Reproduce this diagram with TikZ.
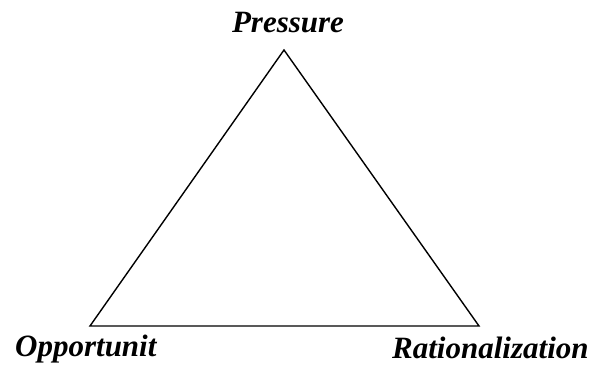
\documentclass[tikz,border=0pt]{standalone}
\usepackage{fontspec}
\setmainfont{Liberation Serif}
\usepackage{tikz}
\usetikzlibrary{positioning}
\tikzset{
  tlabel/.style={font=\fontsize{31}{31}\selectfont\bfseries\itshape,inner sep=0pt},
  tedge/.style={line width=1.4pt,draw=black,line join=miter}
}

\begin{document}
\begin{tikzpicture}[x=1pt,y=1pt]
  \useasboundingbox (0,0) rectangle (598,370);
  % corners of the triangle
  \coordinate (top) at (284,320);
  \coordinate (left) at (90,44);
  \coordinate (right) at (479,44);
  \draw[tedge] (top) -- (right) -- (left) -- cycle;
  % labels
  \node[tlabel,anchor=base] (pressure) at (288,337) {Pressure};
  \node[tlabel,anchor=base west] (opport) at (15,13) {Opportunit};
  \node[tlabel,anchor=base west] (ration) at (392,12) {Rationalization};
\end{tikzpicture}
\end{document}
